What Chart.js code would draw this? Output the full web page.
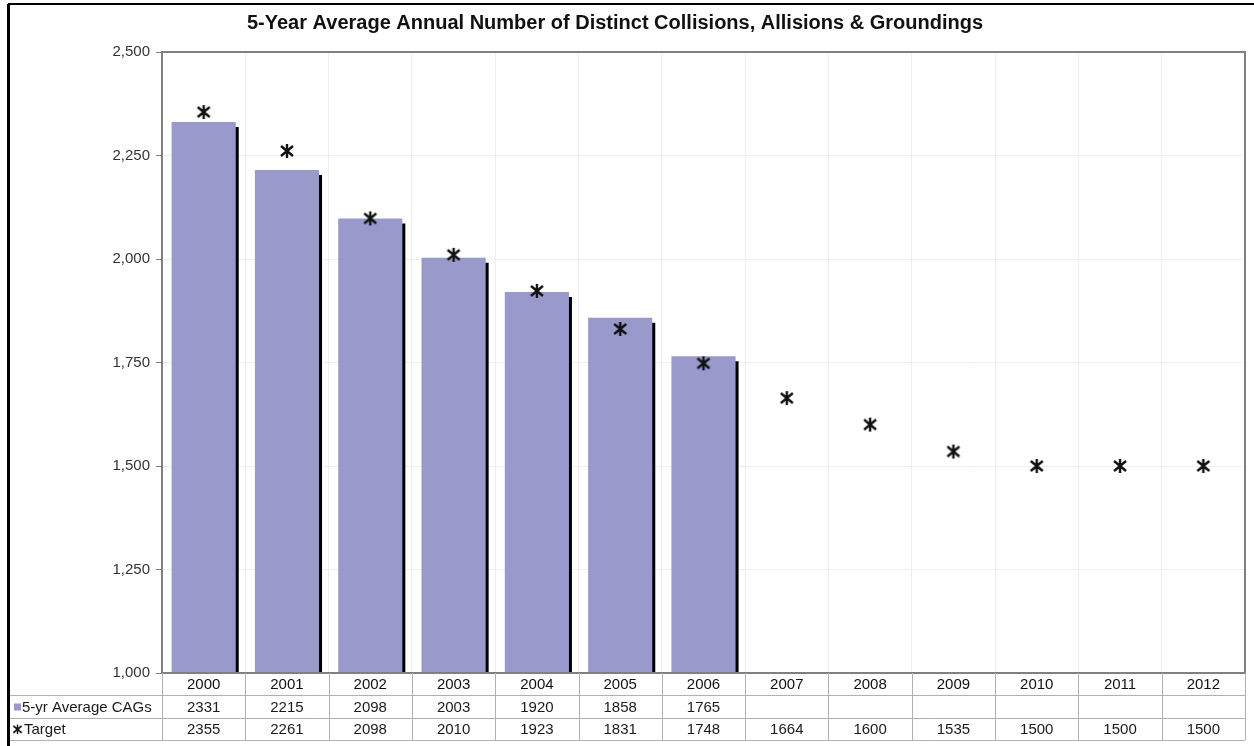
<!DOCTYPE html>
<html>
<head>
<meta charset="utf-8">
<script src="https://cdn.jsdelivr.net/npm/chart.js@4.4.1/dist/chart.umd.min.js"></script>
<style>
  body { margin: 0; background: #fff; }
  canvas { display: block; }
</style>
</head>
<body>
<canvas id="myChart" width="1254" height="746"></canvas>
<script>
// data
const years = ['2000', '2001', '2002', '2003', '2004', '2005', '2006', '2007', '2008', '2009', '2010', '2011', '2012'];
const avgCags = [2331, 2215, 2098, 2003, 1920, 1858, 1765, null, null, null, null, null, null];
const targets = [2355, 2261, 2098, 2010, 1923, 1831, 1748, 1664, 1600, 1535, 1500, 1500, 1500];
const seriesNames = ['5-yr Average CAGs', 'Target'];
const chartTitle = '5-Year Average Annual Number of Distinct Collisions, Allisions & Groundings';

const barColor = '#9999cc';
const font = "'Liberation Sans', Arial, sans-serif";

// star marker (X with a vertical stroke)
function makeStar(size, lw) {
  const c = document.createElement('canvas');
  c.width = size;
  c.height = size;
  const g = c.getContext('2d');
  g.strokeStyle = '#111';
  g.lineWidth = lw;
  g.lineCap = 'butt';
  g.beginPath();
  g.moveTo(2, 3); g.lineTo(size - 2, size - 3);
  g.moveTo(size - 2, 3); g.lineTo(2, size - 3);
  g.moveTo(size / 2, 1); g.lineTo(size / 2, size - 1);
  g.stroke();
  return c;
}
const star = makeStar(16, 2.4);

// bar shadow
const barShadow = {
  id: 'barShadow',
  beforeDatasetDraw(chart, args) {
    if (args.index !== 0) return;
    const ctx = chart.ctx;
    ctx.save();
    ctx.shadowColor = '#000';
    ctx.shadowOffsetX = 3;
    ctx.shadowOffsetY = 5;
    ctx.shadowBlur = 0;
  },
  afterDatasetDraw(chart, args) {
    if (args.index !== 0) return;
    chart.ctx.restore();
  }
};

// title, frame, plot border and data table
const extras = {
  id: 'extras',
  afterDraw(chart) {
    const ctx = chart.ctx;
    const area = chart.chartArea;
    const x = chart.scales.x;
    const rowH = (chart.height - 6 - area.bottom) / 3;
    const left = 8;
    const right = area.right;

    ctx.save();

    // title
    ctx.fillStyle = '#111';
    ctx.font = 'bold 20px ' + font;
    ctx.textAlign = 'center';
    ctx.textBaseline = 'middle';
    ctx.fillText(chartTitle, 615, 23);

    // plot border
    ctx.strokeStyle = '#808080';
    ctx.lineWidth = 2;
    ctx.strokeRect(area.left, area.top, area.width, area.height);

    // table lines
    ctx.strokeStyle = '#b0b0b0';
    ctx.lineWidth = 1;
    ctx.beginPath();
    for (let r = 1; r <= 3; r++) {
      const y = Math.round(area.bottom + rowH * r) + 0.5;
      ctx.moveTo(left, y);
      ctx.lineTo(right, y);
    }
    const half = (x.getPixelForValue(1) - x.getPixelForValue(0)) / 2;
    for (let i = 0; i <= years.length; i++) {
      const px = Math.round(i < years.length ? x.getPixelForValue(i) - half : x.getPixelForValue(i - 1) + half) + 0.5;
      ctx.moveTo(px, area.bottom);
      ctx.lineTo(px, area.bottom + rowH * 3);
    }
    ctx.stroke();

    // table values
    ctx.fillStyle = '#1a1a1a';
    ctx.font = '15px ' + font;
    ctx.textAlign = 'center';
    const rows = [avgCags, targets];
    rows.forEach(function(row, r) {
      const cy = area.bottom + rowH * (r + 1.5) + 1;
      row.forEach(function(v, i) {
        if (v === null) return;
        ctx.fillText(String(v), x.getPixelForValue(i), cy);
      });
    });

    // row labels with legend keys
    ctx.textAlign = 'left';
    const cy1 = area.bottom + rowH * 1.5 + 1;
    const cy2 = area.bottom + rowH * 2.5 + 1;
    ctx.fillStyle = barColor;
    ctx.fillRect(14, cy1 - 4, 7, 7);
    ctx.fillStyle = '#1a1a1a';
    ctx.fillText(seriesNames[0], 22, cy1);
    ctx.drawImage(star, 12, cy2 - 6, 11, 11);
    ctx.fillText(seriesNames[1], 24, cy2);

    // outer frame
    ctx.strokeStyle = '#000';
    ctx.lineWidth = 3;
    ctx.beginPath();
    ctx.moveTo(8.5, 4);
    ctx.lineTo(8.5, chart.height);
    ctx.stroke();
    ctx.lineWidth = 2;
    ctx.beginPath();
    ctx.moveTo(8, 4);
    ctx.lineTo(chart.width, 4);
    ctx.stroke();

    ctx.restore();
  }
};

const ctx = document.getElementById('myChart').getContext('2d');
new Chart(ctx, {
  data: {
    labels: years,
    datasets: [{
      type: 'bar',
      label: seriesNames[0],
      data: avgCags,
      backgroundColor: barColor,
      borderWidth: 0,
      categoryPercentage: 1,
      barPercentage: 0.77,
      clip: 0,
      order: 2
    }, {
      type: 'line',
      label: seriesNames[1],
      data: targets,
      showLine: false,
      pointStyle: star,
      pointRadius: 8,
      clip: false,
      order: 1
    }]
  },
  options: {
    responsive: false,
    animation: false,
    devicePixelRatio: 1,
    layout: {
      padding: { left: 8, right: 6, top: 52, bottom: 6 }
    },
    plugins: {
      legend: { display: false },
      title: { display: false },
      tooltip: { enabled: false }
    },
    scales: {
      x: {
        offset: true,
        grid: {
          offset: true,
          color: '#efefef',
          drawTicks: false
        },
        border: { display: false },
        ticks: {
          padding: 3,
          color: '#111',
          font: { family: font, size: 15 }
        },
        afterFit: function(scale) {
          scale.height = 67;
        }
      },
      y: {
        min: 1000,
        max: 2500,
        grid: {
          color: '#efefef',
          tickLength: 6,
          tickColor: '#808080'
        },
        border: { display: false },
        ticks: {
          stepSize: 250,
          padding: 6,
          color: '#333',
          font: { family: font, size: 15 },
          callback: function(v) { return v.toLocaleString('en-US'); }
        },
        afterFit: function(scale) {
          scale.width = 154;
        }
      }
    }
  },
  plugins: [barShadow, extras]
});
</script>
</body>
</html>
